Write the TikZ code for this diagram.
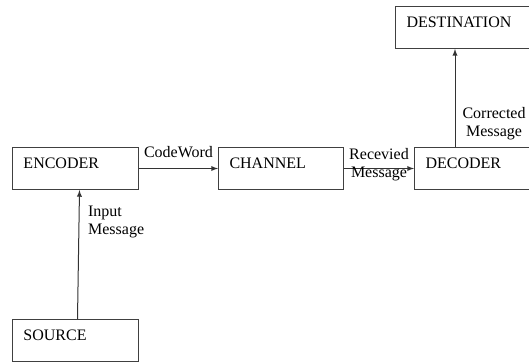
\documentclass[tikz,border=0pt]{standalone}
\usepackage{fontspec}
\setmainfont{Liberation Serif}

\tikzset{
  block/.style={draw=black!75, line width=0.75pt, anchor=north west, align=left,
    inner xsep=8.25pt, inner ysep=0pt, text height=15.75pt, text depth=15.75pt, text width=#1},
  block/.default=78pt,
  lbl/.style={inner sep=2pt},
  flow/.style={-latex, draw=black!80, line width=0.75pt}
}

\begin{document}
\begin{tikzpicture}[x=0.75pt,y=-0.75pt,font=\fontsize{12}{13.5}\selectfont]
\clip (0,0) rectangle (529,363);

\node[block] (enc) at (12,147) {ENCODER};
\node[block=77.25pt] (chan) at (218,147) {CHANNEL};
\node[block=100pt] (dec) at (414,147) {DECODER};
\node[block=100pt] (dest) at (395,6) {DESTINATION};
\node[block] (src) at (12,319) {SOURCE};

%\draw[help lines] (0,0) grid (529,363);

\draw[flow] ([xshift=1.5pt]src.north) -- node[lbl, pos=0.75, right=4.5pt, align=left] {Input\\Message} ([xshift=3pt]enc.south);
\draw[flow] (enc) -- node[lbl, above=5.5pt] {CodeWord} (chan);
\draw[flow] (chan) -- node[lbl, align=center, yshift=3pt] {Recevied\\Message} (dec);

\coordinate (decout) at ([xshift=30.75pt]dec.north west);
\draw[flow] (decout) -- node[lbl, pos=0.24, right=3.25pt, align=center] {Corrected\\Message} (decout |- dest.south);
\end{tikzpicture}
\end{document}
